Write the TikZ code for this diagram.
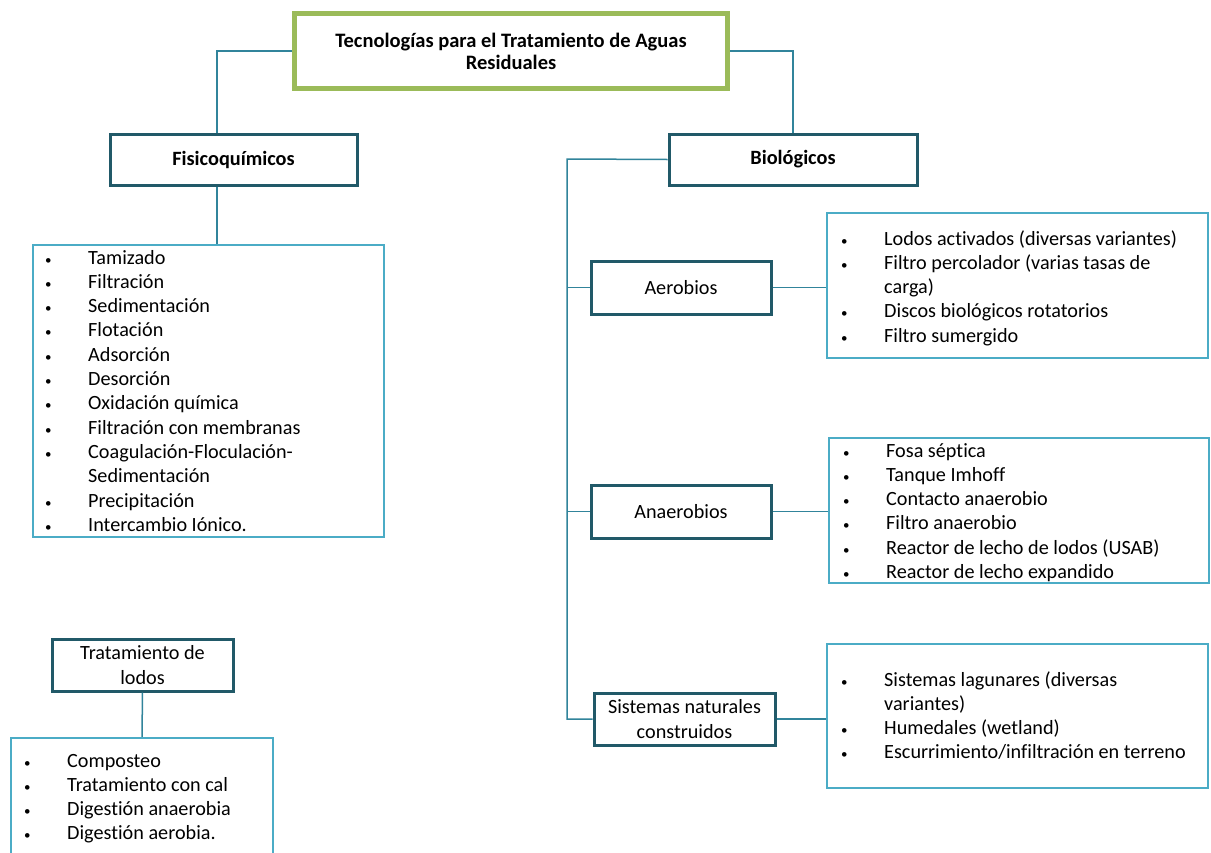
\documentclass[tikz,border=0pt]{standalone}
\usepackage{fontspec}
\setmainfont[Ligatures=NoCommon]{Carlito}
\usepackage{array}
\definecolor{ttlgreen}{HTML}{9BBB59}
\definecolor{dkteal}{HTML}{215968}
\definecolor{ltblue}{HTML}{4BACC6}
\definecolor{conn}{HTML}{31849B}
\newcommand{\bodyfs}{\fontsize{20.2}{24.3}\selectfont}
\newcommand{\blt}{\makebox[43pt][l]{\fontsize{13}{13}\selectfont\textbullet}}
\tikzset{
  ttlbox/.style={draw=ttlgreen, line width=5pt, fill=white, align=center, inner sep=0pt,
    font=\fontsize{20.5}{22}\selectfont\bfseries},
  dkbox/.style={draw=dkteal, line width=3pt, fill=white, align=center, inner sep=0pt, font=\bodyfs},
  hdbox/.style={dkbox, font=\fontsize{20.3}{24}\selectfont\bfseries},
  lstbox/.style={draw=ltblue, line width=2.5pt, fill=white, inner sep=0pt},
  lsttext/.style={anchor=base west, inner sep=0pt, align=left, font=\bodyfs},
  link/.style={draw=conn, line width=1.5pt},
}
\begin{document}
\begin{tikzpicture}[x=1pt,y=-1pt]
\path[use as bounding box, clip] (0,0) rectangle (1211,852);
\fill[white] (0,0) rectangle (1211,852);
\coordinate (trunk) at (567,159);
\coordinate (fisx) at (217,0);
% title
\node[ttlbox, minimum width=433pt, minimum height=75pt] (title) at (511,51)
  {Tecnologías para el Tratamiento de Aguas\\ Residuales};
\node[hdbox, minimum width=247pt, minimum height=51pt] (fisico) at (233.5,159.5) {Fisicoquímicos};
\node[hdbox, minimum width=248pt, minimum height=51pt] (bio) at (793,159.5) {Biológicos};
% list 1
\node[lstbox, minimum width=351pt, minimum height=292pt] (list1) at (208.5,391) {};
\node[lsttext] (list1t) at (45,264) {\begin{tabular}[t]{@{}l@{}l@{}}
\blt & Tamizado\\
\blt & Filtración\\
\blt & Sedimentación\\
\blt & Flotación\\
\blt & Adsorción\\
\blt & Desorción\\
\blt & Oxidación química\\
\blt & Filtración con membranas\\
\blt & Coagulación-Floculación-\\
 & Sedimentación\\
\blt & Precipitación\\
\blt & Intercambio Iónico.
\end{tabular}};
% aerobios
\node[dkbox, minimum width=180pt, minimum height=53pt] (aero) at (681,287.5) {Aerobios};
\node[lstbox, minimum width=381pt, minimum height=145pt] (aerolist) at (1017.5,285.5) {};
\node[lsttext] (aerot) at (841,245) {\begin{tabular}[t]{@{}l@{}l@{}}
\blt & Lodos activados (diversas variantes)\\
\blt & Filtro percolador (varias tasas de\\
 & carga)\\
\blt & Discos biológicos rotatorios\\
\blt & Filtro sumergido
\end{tabular}};
% anaerobios
\node[dkbox, minimum width=180pt, minimum height=53pt] (ana) at (681,511.5) {Anaerobios};
\node[lstbox, minimum width=380pt, minimum height=145pt] (analist) at (1019,510.5) {};
\node[lsttext] (anat) at (843,457) {\begin{tabular}[t]{@{}l@{}l@{}}
\blt & Fosa séptica\\
\blt & Tanque Imhoff\\
\blt & Contacto anaerobio\\
\blt & Filtro anaerobio\\
\blt & Reactor de lecho de lodos (USAB)\\
\blt & Reactor de lecho expandido
\end{tabular}};
% sistemas naturales
\node[dkbox, minimum width=181pt, minimum height=52pt] (sisnat) at (684.5,719) {Sistemas naturales\\ construidos};
\node[lstbox, minimum width=381pt, minimum height=144pt] (sislist) at (1017.5,716) {};
\node[lsttext] (sist) at (841,686) {\begin{tabular}[t]{@{}l@{}l@{}}
\blt & Sistemas lagunares (diversas\\
 & variantes)\\
\blt & Humedales (wetland)\\
\blt & Escurrimiento/infiltración en terreno
\end{tabular}};
% lodos
\node[dkbox, minimum width=181pt, minimum height=52pt] (lodos) at (142.5,665) {Tratamiento de\\ lodos};
\node[lstbox, minimum width=262pt, minimum height=124pt] (lodoslist) at (142,800) {};
\node[lsttext] (lodost) at (24,767) {\begin{tabular}[t]{@{}l@{}l@{}}
\blt & Composteo\\
\blt & Tratamiento con cal\\
\blt & Digestión anaerobia\\
\blt & Digestión aerobia.
\end{tabular}};
% connectors
\draw[link] (title.west) -| (fisico.north -| fisx);
\draw[link] (title.east) -| (bio.north);
\draw[link] (fisico.south -| fisx) -- (list1.north -| fisx);
\draw[link] (bio.west) -- (trunk) |- (sisnat.west);
\draw[link] (aero.west) -- (aero.west -| trunk);
\draw[link] (ana.west) -- (ana.west -| trunk);
\draw[link] (aero.east) -- (aero.east -| aerolist.west);
\draw[link] (ana.east) -- (ana.east -| analist.west);
\draw[link] (sisnat.east) -- (sisnat.east -| sislist.west);
\draw[link] (lodos.south) -- (lodoslist.north);
\end{tikzpicture}
\end{document}
